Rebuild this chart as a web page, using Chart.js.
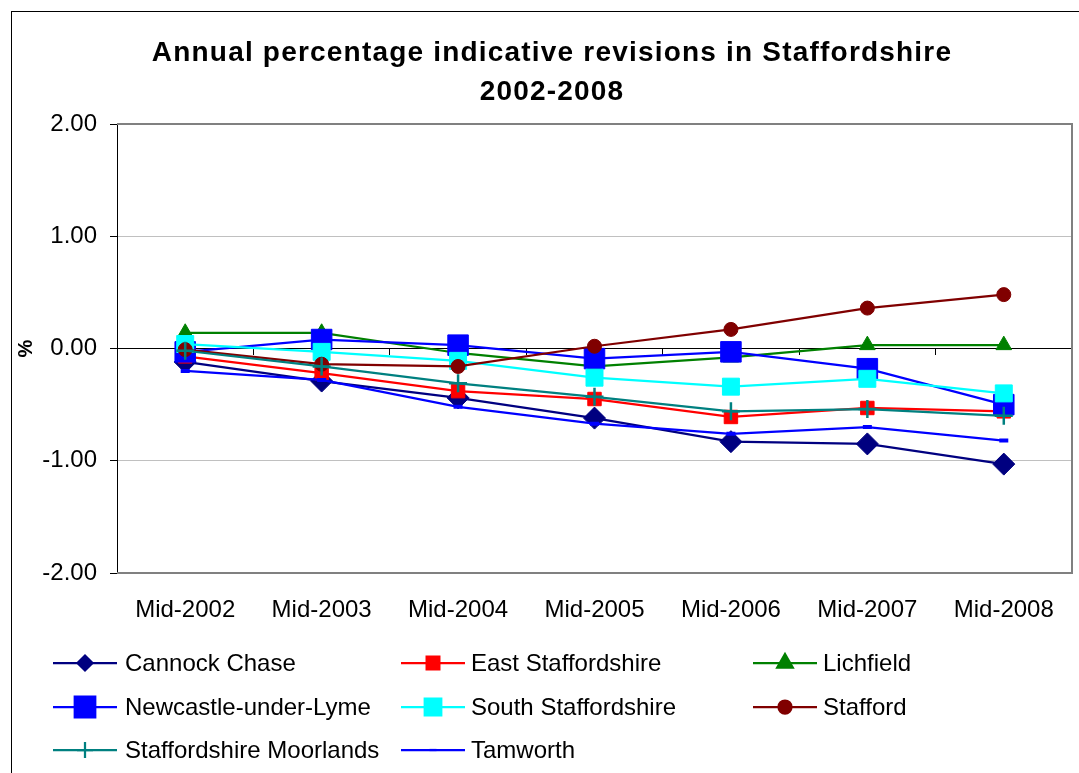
<!DOCTYPE html>
<html>
<head>
<meta charset="utf-8">
<title>Annual percentage indicative revisions in Staffordshire 2002-2008</title>
<script src="https://cdn.jsdelivr.net/npm/chart.js@4/dist/chart.umd.min.js"></script>
<style>
  html, body { margin: 0; padding: 0; background: #fff; }
  #wrap { width: 1079px; height: 773px; position: relative; }
</style>
</head>
<body>
<div id="wrap"><canvas id="c" width="1079" height="773"></canvas></div>
<script>
// Categories (mid-year estimates)
const categories = ['Mid-2002', 'Mid-2003', 'Mid-2004', 'Mid-2005', 'Mid-2006', 'Mid-2007', 'Mid-2008'];

// Annual percentage indicative revisions by district (%)
const cannockChase           = [-0.12, -0.29, -0.44, -0.62, -0.83, -0.85, -1.03];
const eastStaffordshire      = [-0.07, -0.22, -0.38, -0.45, -0.61, -0.53, -0.56];
const lichfield              = [ 0.14,  0.14, -0.04, -0.16, -0.08,  0.03,  0.03];
const newcastleUnderLyme     = [-0.03,  0.08,  0.03, -0.09, -0.03, -0.18, -0.50];
const southStaffordshire     = [ 0.04, -0.03, -0.11, -0.26, -0.34, -0.27, -0.40];
const stafford               = [-0.01, -0.14, -0.16,  0.02,  0.17,  0.36,  0.48];
const staffordshireMoorlands = [-0.02, -0.16, -0.31, -0.43, -0.56, -0.54, -0.60];
const tamworth               = [-0.20, -0.28, -0.52, -0.67, -0.76, -0.70, -0.82];

// Value axis range and step
const yMin = -2, yMax = 2, yStep = 1;

const titleLines = ['Annual percentage indicative revisions in Staffordshire', '2002-2008'];
const FONT = '"Liberation Sans", Arial, Helvetica, sans-serif';

function series(label, data, color, style, radius, opts) {
  return Object.assign({
    label: label,
    data: data,
    borderColor: color,
    backgroundColor: color,
    pointBackgroundColor: color,
    pointBorderColor: color,
    borderWidth: 2.25,
    pointStyle: style,
    pointRadius: radius,
    pointHoverRadius: radius,
    pointBorderWidth: 1,
    tension: 0,
    fill: false
  }, opts || {});
}

const datasets = [
  series('Cannock Chase', cannockChase, '#000080', 'rectRot', 11, { legendRadius: 7.5 }),
  series('East Staffordshire', eastStaffordshire, '#FF0000', 'rect', 9.5, { legendRadius: 9 }),
  series('Lichfield', lichfield, '#008000', 'triangle', 9, { legendRadius: 9 }),
  series('Newcastle-under-Lyme', newcastleUnderLyme, '#0000FF', 'rect', 14.5, { legendRadius: 14.5 }),
  series('South Staffordshire', southStaffordshire, '#00FFFF', 'rect', 12, { legendRadius: 11.7 }),
  series('Stafford', stafford, '#800000', 'circle', 7, { legendRadius: 6.5 }),
  series('Staffordshire Moorlands', staffordshireMoorlands, '#008080', 'cross', 9, { pointBorderWidth: 2.5, legendRadius: 8 }),
  series('Tamworth', tamworth, '#0000FF', 'line', 4.5, { pointBorderWidth: 4, legendRadius: 3.5 })
];
// later series are painted over earlier ones
datasets.forEach((d, i) => { d.order = datasets.length - i; });

// Page frame, plot border, title and three-column legend
const decorations = {
  id: 'decorations',
  beforeDraw(chart) {
    const ctx = chart.ctx;
    ctx.save();
    ctx.fillStyle = '#fff';
    ctx.fillRect(0, 0, chart.width, chart.height);
    ctx.strokeStyle = '#000';
    ctx.lineWidth = 1;
    ctx.strokeRect(11.5, 11.5, chart.width + 40, chart.height + 40);
    ctx.restore();
  },
  beforeDatasetsDraw(chart) {
    const ctx = chart.ctx;
    const a = chart.chartArea;
    ctx.save();
    ctx.strokeStyle = '#808080';
    ctx.lineWidth = 2;
    ctx.beginPath();
    ctx.moveTo(a.left, a.top);
    ctx.lineTo(a.right, a.top);
    ctx.lineTo(a.right, a.bottom);
    ctx.lineTo(a.left, a.bottom);
    ctx.stroke();
    ctx.restore();
  },
  afterDraw(chart) {
    const ctx = chart.ctx;
    ctx.save();
    // title
    ctx.fillStyle = '#000';
    ctx.textAlign = 'center';
    ctx.textBaseline = 'alphabetic';
    ctx.font = 'bold 28px ' + FONT;
    if ('letterSpacing' in ctx) ctx.letterSpacing = '1.2px';
    ctx.fillText(titleLines[0], 552, 61);
    ctx.fillText(titleLines[1], 552, 100);
    if ('letterSpacing' in ctx) ctx.letterSpacing = '0px';

    // legend
    const colLine = [53, 401, 753];
    const colText = [125, 471, 823];
    const rowY = [663, 707, 750];
    ctx.font = '24px ' + FONT;
    ctx.textAlign = 'left';
    ctx.textBaseline = 'middle';
    chart.data.datasets.forEach((ds, i) => {
      const col = i % 3, row = Math.floor(i / 3);
      const x0 = colLine[col], x1 = x0 + 64, y = rowY[row];
      ctx.strokeStyle = ds.borderColor;
      ctx.lineWidth = ds.borderWidth;
      ctx.beginPath();
      ctx.moveTo(x0, y);
      ctx.lineTo(x1, y);
      ctx.stroke();
      ctx.fillStyle = ds.pointBackgroundColor;
      ctx.strokeStyle = ds.pointBorderColor;
      Chart.helpers.drawPoint(ctx, {
        pointStyle: ds.pointStyle,
        radius: ds.legendRadius,
        rotation: 0,
        borderWidth: ds.pointBorderWidth
      }, (x0 + x1) / 2, y);
      ctx.fillStyle = '#000';
      ctx.fillText(ds.label, colText[col], y + 1);
    });
    ctx.restore();
  }
};

new Chart(document.getElementById('c'), {
  type: 'line',
  data: { labels: categories, datasets: datasets },
  plugins: [decorations],
  options: {
    responsive: false,
    animation: false,
    devicePixelRatio: 1,
    layout: { autoPadding: false, padding: { top: 124, right: 7, left: 0, bottom: 0 } },
    plugins: {
      legend: { display: false },
      title: { display: false },
      tooltip: { enabled: false }
    },
    scales: {
      x: {
        type: 'category',
        position: 'bottom',
        offset: true,
        grid: { display: false, drawTicks: false },
        border: { display: false },
        ticks: {
          color: '#000',
          font: { family: FONT, size: 24 },
          padding: 23,
          maxRotation: 0,
          autoSkip: false
        },
        afterFit(scale) {
          scale.height = 200;
          scale.paddingLeft = 0;
          scale.paddingRight = 0;
        }
      },
      x2: {
        type: 'category',
        axis: 'x',
        labels: categories,
        position: { y: 0 },
        offset: true,
        grid: { offset: true, drawOnChartArea: false, drawTicks: true, tickLength: 6, tickColor: '#000', tickWidth: 1 },
        border: { color: '#000', width: 1 },
        ticks: { display: false },
        afterFit(scale) {
          scale.paddingLeft = 0;
          scale.paddingRight = 0;
        }
      },
      y: {
        type: 'linear',
        position: 'left',
        min: yMin,
        max: yMax,
        ticks: {
          stepSize: yStep,
          color: '#000',
          font: { family: FONT, size: 24 },
          padding: 13,
          callback: v => Number(v).toFixed(2)
        },
        grid: { color: '#c0c0c0', lineWidth: 1, tickColor: '#000', tickLength: 7, tickWidth: 1 },
        border: { color: '#000', width: 1 },
        title: {
          display: true,
          text: '%',
          color: '#000',
          font: { family: FONT, size: 20, weight: 'bold' },
          padding: { top: 14, bottom: 0 }
        },
        afterFit(scale) { scale.width = 117; }
      }
    }
  }
});
</script>
</body>
</html>
